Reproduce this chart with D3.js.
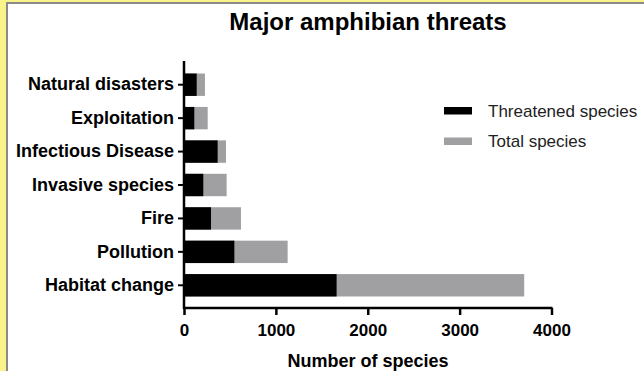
<!DOCTYPE html>
<html>
<head>
<meta charset="utf-8">
<script src="https://cdn.jsdelivr.net/npm/d3@7"></script>
<style>
  body { margin: 0; background: #f8f48a; }
  svg { display: block; }
  text { font-family: "Liberation Sans", Arial, sans-serif; }
</style>
</head>
<body>
<svg id="chart" width="644" height="371"></svg>
<script>
// data
const threats = ["Natural disasters", "Exploitation", "Infectious Disease",
  "Invasive species", "Fire", "Pollution", "Habitat change"];
const threatened = [138, 112, 366, 210, 294, 548, 1661];
const total = [228, 258, 457, 464, 620, 1128, 3703];
const xTicks = [0, 1000, 2000, 3000, 4000];
const legendLabels = ["Threatened species", "Total species"];
const colors = ["#000000", "#a0a0a3"];

const svg = d3.select("#chart");

// page panel with gray border
svg.append("rect")
  .attr("x", 7).attr("y", 3)
  .attr("width", 650).attr("height", 380)
  .attr("fill", "#fff")
  .attr("stroke", "#8a8a8a")
  .attr("stroke-width", 2);

const x = d3.scaleLinear().domain([0, 4000]).range([184, 551.5]);
const y = d3.scaleBand().domain(threats).range([68, 302])
  .paddingInner(0.33).paddingOuter(0.165);

// total behind, threatened on top
svg.append("g").selectAll("rect")
  .data(threats).enter()
  .append("rect")
  .attr("x", x(0))
  .attr("y", d => y(d))
  .attr("width", (d, i) => x(total[i]) - x(0))
  .attr("height", y.bandwidth())
  .attr("fill", colors[1]);

svg.append("g").selectAll("rect")
  .data(threats).enter()
  .append("rect")
  .attr("x", x(0))
  .attr("y", d => y(d))
  .attr("width", (d, i) => x(threatened[i]) - x(0))
  .attr("height", y.bandwidth())
  .attr("fill", colors[0]);

// x axis
let xAxis = svg.append("g")
  .attr("transform", "translate(0,308)")
  .call(d3.axisBottom(x).tickValues(xTicks).tickFormat(d3.format("d")).tickSize(7).tickSizeOuter(0))
xAxis.select(".domain").attr("stroke-width", 2.5).attr("d", "M" + (x(0) - 1) + ",0H" + (x(4000) + 1));
xAxis.selectAll(".tick line").attr("stroke-width", 2.5);
xAxis.selectAll(".tick text")
  .attr("dy", 0).attr("y", 28)
  .style("font-size", "17px").style("font-weight", "bold")
  .style("font-family", "Liberation Sans, Arial, sans-serif").attr("fill", "#000");

// y axis
let yAxis = svg.append("g")
  .attr("transform", "translate(184,0)")
  .call(d3.axisLeft(y).tickSize(6).tickSizeOuter(0))
yAxis.select(".domain").attr("stroke-width", 2.5).attr("d", "M0,61V309");
yAxis.selectAll(".tick line").attr("stroke-width", 2);
yAxis.selectAll(".tick text")
  .attr("x", -10)
  .style("font-size", "18px").style("font-weight", "bold")
  .style("font-family", "Liberation Sans, Arial, sans-serif").attr("fill", "#000");

// titles
svg.append("text")
  .attr("x", 368).attr("y", 30)
  .attr("text-anchor", "middle")
  .style("font-size", "24px").style("font-weight", "bold")
  .text("Major amphibian threats");

svg.append("text")
  .attr("x", 368).attr("y", 367)
  .attr("text-anchor", "middle")
  .style("font-size", "18px").style("font-weight", "bold")
  .text("Number of species");

// legend
let legend = svg.append("g").selectAll("g")
  .data(legendLabels).enter()
  .append("g")
  .attr("transform", (d, i) => "translate(444," + (107 + i * 30.5) + ")");
legend.append("rect")
  .attr("width", 28).attr("height", 7.5)
  .attr("fill", (d, i) => colors[i]);
legend.append("text")
  .attr("x", 44).attr("y", 4)
  .attr("dy", "0.35em")
  .style("font-size", "17px")
  .attr("fill", "#222")
  .text(d => d);
</script>
</body>
</html>
